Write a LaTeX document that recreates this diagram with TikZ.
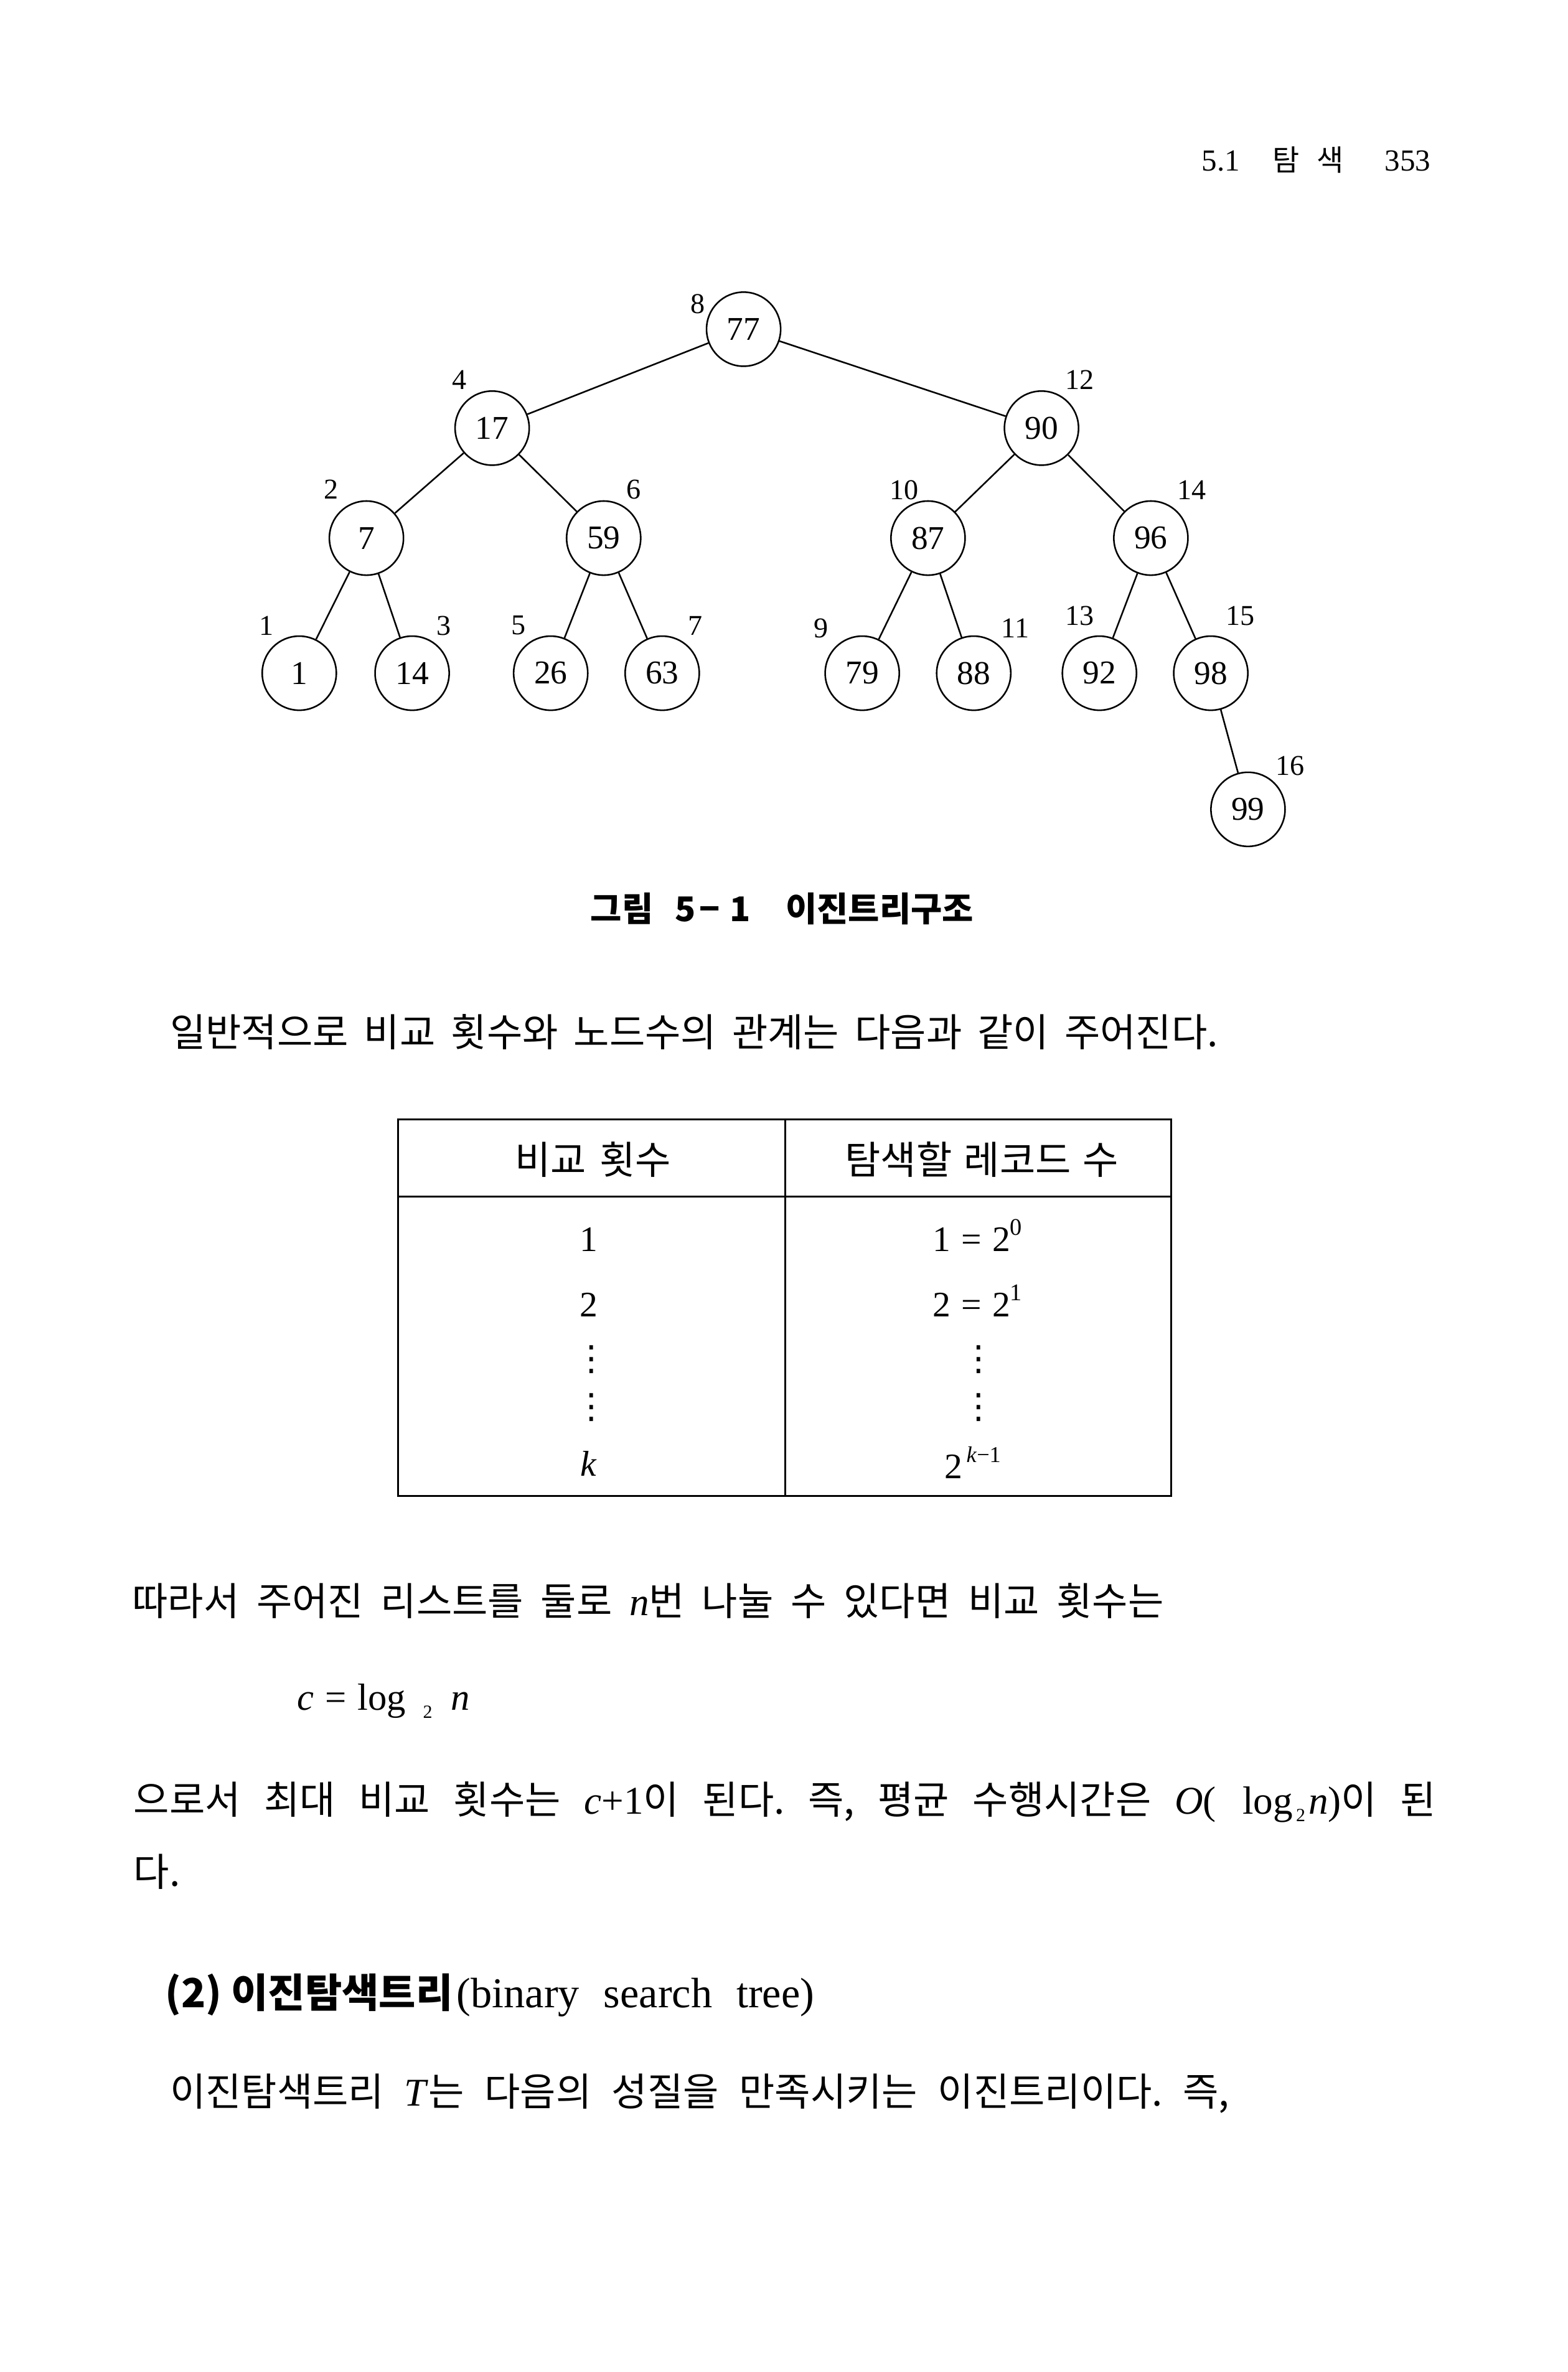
\documentclass[tikz,border=0pt]{standalone}
\usepackage{fontspec}
\setmainfont{Liberation Serif}
\newfontfamily\krfont{Noto Sans CJK KR}
\newfontfamily\symfont{DejaVu Sans}
\usetikzlibrary{positioning}

\newcommand{\ltn}[1]{{\rmfamily\fontsize{14.8}{17}\selectfont #1}}
\frenchspacing

\begin{document}
\begin{tikzpicture}[
    x=0.02cm, y=-0.02cm,
    vertex/.style={draw, circle, line width=0.6pt, minimum size=0.98cm, inner sep=0pt, font=\rmfamily\fontsize{12.5}{14}\selectfont},
    idx/.style={inner sep=0pt, font=\rmfamily\fontsize{10.8}{13}\selectfont},
    body/.style={inner sep=0pt, anchor=base west, font=\krfont\fontsize{14.6}{17}\selectfont},
    cell/.style={inner sep=0pt, anchor=base, font=\rmfamily\fontsize{13.5}{16}\selectfont},
    vdot/.style={inner sep=0pt, font=\symfont\fontsize{13}{15}\selectfont},
    rule/.style={line width=0.8pt}
  ]

  \fill[white] (0,0) rectangle (1036,1568);

  % --- Running head ---
  \node[body, font=\rmfamily\fontsize{11.5}{13}\selectfont] (hsec) at (794,113) {5.1};
  \node[body, font=\krfont\fontsize{11}{13}\selectfont] (hwd1) at (841,113) {탐};
  \node[body, font=\krfont\fontsize{11}{13}\selectfont] (hwd2) at (870,113) {색};
  \node[body, font=\rmfamily\fontsize{11.5}{13}\selectfont] (hpage) at (915,113) {353};

  % --- Tree ---
  \foreach \n/\x/\y in {77/491.5/217.6, 17/325.3/283, 90/688.4/283,
      7/242.2/355.7, 59/399/355.7, 87/613.4/355.7, 96/760.7/355.7,
      1/197.8/445, 14/272.4/445, 26/364/445, 63/437.7/445,
      79/569.9/445, 88/643.6/445, 92/726.7/445, 98/800.3/445, 99/824.9/535} {
    \node[vertex] (v\n) at (\x,\y) {\n};
  }
  \foreach \a/\b in {77/17, 77/90, 17/7, 17/59, 7/1, 7/14, 59/26, 59/63,
      90/87, 90/96, 87/79, 87/88, 96/92, 96/98, 98/99} {
    \draw[line width=0.6pt] (v\a) -- (v\b);
  }
  \foreach \k/\x/\y in {8/461.3/201, 4/303.6/251, 12/713.5/251,
      2/219.1/323.3, 6/418.8/323.5, 10/597.8/324, 14/787.6/324,
      1/176.1/413.5, 3/293.2/413.5, 5/342.8/413.5, 7/459.4/413.5,
      9/542.5/415.4, 11/671/415.4, 13/713.5/407.2, 15/819.7/407.2, 16/852.8/506.3} {
    \node[idx] (l\k) at (\x,\y) {\k};
  }

  % --- Caption ---
  \node[body, font=\krfont\bfseries\fontsize{12.8}{15}\selectfont] (cap1) at (390,609) {그림};
  \node[body, font=\krfont\bfseries\fontsize{12.8}{15}\selectfont] (cap2) at (446,609) {5};
  \node[body, anchor=base, font=\krfont\bfseries\fontsize{12.8}{15}\selectfont] (cap3) at (469,609) {−};
  \node[body, font=\krfont\bfseries\fontsize{12.8}{15}\selectfont] (cap4) at (482,609) {1};
  \node[body, font=\krfont\bfseries\fontsize{12.8}{15}\selectfont] (cap5) at (519,609) {이진트리구조};

  \node[body] (intro) at (112,692) {\makebox[13.86cm][s]{일반적으로 비교 횟수와 노드수의 관계는 다음과 같이 주어진다.}};

  % --- Table ---
  \draw[rule] (263,740) rectangle (774,989);
  \draw[rule] (263,791) -- (774,791);
  \draw[line width=0.6pt] (519,740) -- (519,989);
  \node[body, anchor=base] (th1) at (392,776) {\makebox[2.06cm][s]{비교 횟수}};
  \node[body, anchor=base] (th2) at (649,776) {\makebox[3.62cm][s]{탐색할 레코드 수}};
  \node[cell] (c11) at (389,827.3) {1};
  \node[cell] (c12) at (646,827.3) {1\hspace{.3em}=\hspace{.3em}2\raisebox{.45em}{\fontsize{9}{10}\selectfont 0}};
  \node[cell] (c21) at (389,870.5) {2};
  \node[cell] (c22) at (646,870.5) {2\hspace{.3em}=\hspace{.3em}2\raisebox{.45em}{\fontsize{9}{10}\selectfont 1}};
  \node[vdot] (c31) at (391,898.6) {⋮};
  \node[vdot] (c32) at (647,898.6) {⋮};
  \node[vdot] (c41) at (391,930.5) {⋮};
  \node[vdot] (c42) at (647,930.5) {⋮};
  \node[cell] (c51) at (389,975.8) {\textit{k}};
  \node[cell] (c52) at (643,977.4) {2\raisebox{.45em}{\fontsize{8.5}{9}\selectfont\,\textit{k}−1}};

  % --- Text ---
  \node[body] (then) at (87,1068) {\makebox[13.64cm][s]{따라서 주어진 리스트를 둘로 \ltn{\itshape n}번 나눌 수 있다면 비교 횟수는}};
  \node[body, font=\rmfamily\fontsize{14.2}{17}\selectfont] (logc) at (196,1130.6)
    {\textit{c}\hspace{.3em}=\hspace{.3em}log\hspace{.45em}\raisebox{-.2em}{\fontsize{7}{8}\selectfont 2}\hspace{.5em}\textit{n}};
  \node[body] (result) at (88,1199) {\makebox[17.22cm][s]{으로서 최대 비교 횟수는 \ltn{\textit{c}+1}이 된다. 즉, 평균 수행시간은 \ltn{\textit{O}( log\raisebox{-.2em}{\fontsize{7}{8}\selectfont\,2\,}\textit{n})}이 된}};
  \node[body] (resultend) at (88,1247) {다.};

  \node[body, font=\krfont\bfseries\fontsize{15.1}{17}\selectfont] (bst) at (109,1327) {(2) 이진탐색트리};
  \node[body, font=\rmfamily\fontsize{16}{18}\selectfont] (bstname) at (301.5,1327) {\makebox[4.73cm][s]{(binary search tree)}};
  \node[body] (bstdef) at (112,1392) {\makebox[14.01cm][s]{이진탐색트리 \ltn{\textit{T}}는 다음의 성질을 만족시키는 이진트리이다. 즉,}};

\end{tikzpicture}
\end{document}
